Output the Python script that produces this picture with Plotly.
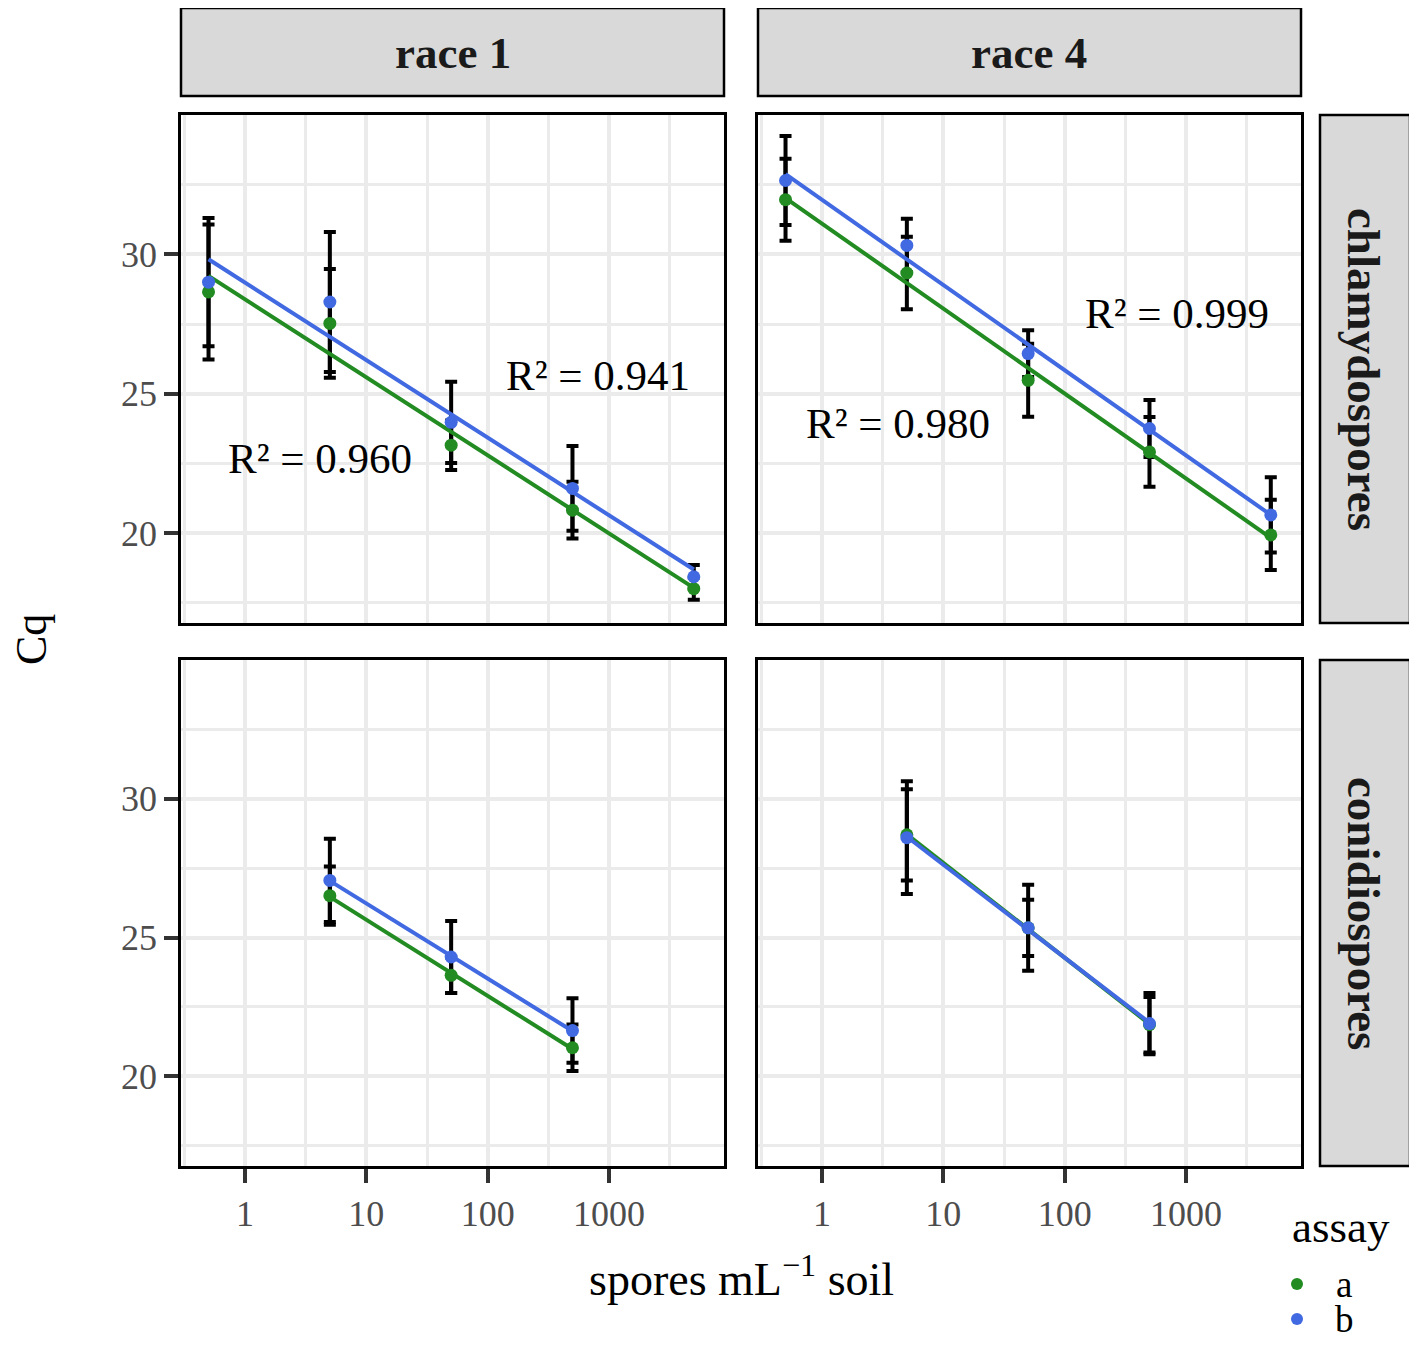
import numpy as np
import plotly.graph_objects as go
from plotly.subplots import make_subplots

# spore dilutions (spores mL-1 soil)
chl_spores = [0.5, 5, 50, 500, 5000]
con_spores = [5, 50, 500]

# chlamydospores, race 1
chl_r1_a = [28.65, 27.52, 23.15, 20.82, 18.00]
chl_r1_a_err = [2.42, 1.95, 0.89, 1.02, 0.40]
chl_r1_b = [29.00, 28.29, 23.97, 21.60, 18.43]
chl_r1_b_err = [2.30, 2.51, 1.46, 1.52, 0.42]

# chlamydospores, race 4
chl_r4_a = [31.96, 29.33, 25.48, 22.91, 19.93]
chl_r4_a_err = [1.47, 1.30, 1.31, 1.25, 1.26]
chl_r4_b = [32.65, 30.32, 26.44, 23.75, 20.65]
chl_r4_b_err = [1.60, 0.96, 0.84, 1.02, 1.35]

# conidiospores, race 1
con_r1_a = [26.51, 23.64, 21.03]
con_r1_a_err = [1.05, 0.64, 0.84]
con_r1_b = [27.06, 24.30, 21.65]
con_r1_b_err = [1.50, 1.30, 1.16]

# conidiospores, race 4
con_r4_a = [28.70, 25.35, 21.86]
con_r4_a_err = [1.64, 1.01, 1.00]
con_r4_b = [28.60, 25.35, 21.90]
con_r4_b_err = [2.03, 1.55, 1.10]

race_labels = ["race 1", "race 4"]
spore_labels = ["chlamydospores", "conidiospores"]
assays = ["a", "b"]
assay_colors = {"a": "#228B22", "b": "#4169E1"}
r2_labels = {(1, 1): ["R² = 0.960", "R² = 0.941"], (1, 2): ["R² = 0.980", "R² = 0.999"]}

FONT = "Liberation Serif"

panels = {
    (1, 1): (chl_spores, [(chl_r1_a, chl_r1_a_err), (chl_r1_b, chl_r1_b_err)]),
    (1, 2): (chl_spores, [(chl_r4_a, chl_r4_a_err), (chl_r4_b, chl_r4_b_err)]),
    (2, 1): (con_spores, [(con_r1_a, con_r1_a_err), (con_r1_b, con_r1_b_err)]),
    (2, 2): (con_spores, [(con_r4_a, con_r4_a_err), (con_r4_b, con_r4_b_err)]),
}

# the page body has an 8px margin, so the figure is 16px smaller than the window
PAD = 8
W, H = 1417 - 2 * PAD, 1354 - 2 * PAD


def fx(px):
    return (px - PAD) / W


def fy(py):
    return 1 - (py - PAD) / H


fig = make_subplots(rows=2, cols=2)

for (row, col), (xs, series) in panels.items():
    # error bars first, then fitted lines, then points on top
    for assay, (ys, errs) in zip(assays, series):
        fig.add_trace(go.Scatter(
            x=xs, y=ys, mode="markers", showlegend=False, hoverinfo="skip",
            marker=dict(size=1, color="rgba(0,0,0,0)"),
            error_y=dict(type="data", array=errs, visible=True, color="black",
                         thickness=4, width=6)), row=row, col=col)
    for assay, (ys, errs) in zip(assays, series):
        logx = np.log10(xs)
        slope, icpt = np.polyfit(logx, ys, 1)
        x_end = [min(xs), max(xs)]
        y_end = [icpt + slope * np.log10(v) for v in x_end]
        fig.add_trace(go.Scatter(
            x=x_end, y=y_end, mode="lines", showlegend=False,
            line=dict(color=assay_colors[assay], width=4)), row=row, col=col)
    for assay, (ys, errs) in zip(assays, series):
        fig.add_trace(go.Scatter(
            x=xs, y=ys, mode="markers", name=assay, showlegend=False,
            marker=dict(size=13, color=assay_colors[assay])), row=row, col=col)

# panel placement in window pixels (left, right) / (top, bottom)
col_px = [(181, 724), (758, 1301)]
row_px = [(115, 623), (660, 1166)]

for r in range(2):
    for c in range(2):
        idx = r * 2 + c + 1
        xa = "xaxis" if idx == 1 else f"xaxis{idx}"
        ya = "yaxis" if idx == 1 else f"yaxis{idx}"
        fig.layout[xa].update(
            domain=[fx(col_px[c][0]), fx(col_px[c][1])],
            type="log", range=[-0.528, 3.948],
            tickvals=[1, 10, 100, 1000], ticktext=["1", "10", "100", "1000"],
            showticklabels=(r == 1), ticks="outside" if r == 1 else "",
            ticklen=14, tickwidth=3.5, tickcolor="#333333",
            tickfont=dict(family=FONT, size=36, color="#4d4d4d"),
            showgrid=True, gridcolor="#ebebeb", gridwidth=4,
            minor=dict(tickvals=[10 ** v for v in [-0.5, 0.5, 1.5, 2.5, 3.5]],
                       showgrid=True, gridcolor="#ebebeb", gridwidth=3, ticks=""),
            showline=True, mirror=True, linecolor="black", linewidth=2.5,
            zeroline=False, automargin=False)
        fig.layout[ya].update(
            domain=[fy(row_px[r][1]), fy(row_px[r][0])],
            range=[16.77, 35.0],
            tickvals=[20, 25, 30],
            showticklabels=(c == 0), ticks="outside" if c == 0 else "",
            ticklen=14, tickwidth=3.5, tickcolor="#333333",
            tickfont=dict(family=FONT, size=36, color="#4d4d4d"),
            showgrid=True, gridcolor="#ebebeb", gridwidth=4,
            minor=dict(tickvals=[17.5, 22.5, 27.5, 32.5],
                       showgrid=True, gridcolor="#ebebeb", gridwidth=3, ticks=""),
            showline=True, mirror=True, linecolor="black", linewidth=2.5,
            zeroline=False, automargin=False)

shapes = []
annotations = []


def paper_text(text, x, y, size, angle=0, color="black"):
    return dict(text=text, x=fx(x), y=fy(y), xref="paper", yref="paper",
                xanchor="center", yanchor="middle", showarrow=False, textangle=angle,
                font=dict(family=FONT, size=size, color=color))


strip = dict(type="rect", xref="paper", yref="paper", fillcolor="#d9d9d9",
             line=dict(color="black", width=2.5), layer="below")
for c, label in enumerate(race_labels):
    x0, x1 = col_px[c]
    shapes.append(dict(strip, x0=fx(x0), x1=fx(x1), y0=fy(96), y1=fy(8)))
    annotations.append(paper_text(f"<b>{label}</b>", (x0 + x1) / 2, 53, 45, color="#1a1a1a"))
for r, label in enumerate(spore_labels):
    y0, y1 = row_px[r]
    shapes.append(dict(strip, x0=fx(1320), x1=fx(1410), y0=fy(y1), y1=fy(y0)))
    annotations.append(paper_text(f"<b>{label}</b>", 1364, (y0 + y1) / 2, 47, angle=90,
                                  color="#1a1a1a"))

# R-squared labels (positions in log10 x, Cq)
r2_pos = {(1, 1): [(0.618, 22.69), (2.909, 25.66)], (1, 2): [(0.627, 23.94), (2.926, 27.89)]}
for key, labels in r2_labels.items():
    idx = (key[0] - 1) * 2 + key[1]
    xr = "x" if idx == 1 else f"x{idx}"
    yr = "y" if idx == 1 else f"y{idx}"
    for text, (ax, ay) in zip(labels, r2_pos[key]):
        annotations.append(dict(text=text, x=ax, y=ay, xref=xr, yref=yr, showarrow=False,
                                xanchor="center", yanchor="middle",
                                font=dict(family=FONT, size=43, color="black")))

annotations.append(paper_text("Cq", 31, 640, 44, angle=-90))
annotations.append(paper_text("spores mL<sup>−1</sup> soil", 741, 1276, 46))

# legend: title, dots and labels
annotations.append(paper_text("assay", 1341, 1227, 45))
for i, assay in enumerate(assays):
    cy = 1284 + 35 * i
    shapes.append(dict(type="circle", xref="paper", yref="paper",
                       x0=fx(1291), x1=fx(1303), y0=fy(cy + 6), y1=fy(cy - 6),
                       fillcolor=assay_colors[assay], line=dict(width=0)))
    annotations.append(paper_text(assay, 1344, cy, 37))

fig.update_layout(
    width=W, height=H, margin=dict(l=0, r=0, t=0, b=0),
    plot_bgcolor="white", paper_bgcolor="white",
    shapes=shapes, annotations=annotations, showlegend=False,
)

fig.write_html("out.html")
